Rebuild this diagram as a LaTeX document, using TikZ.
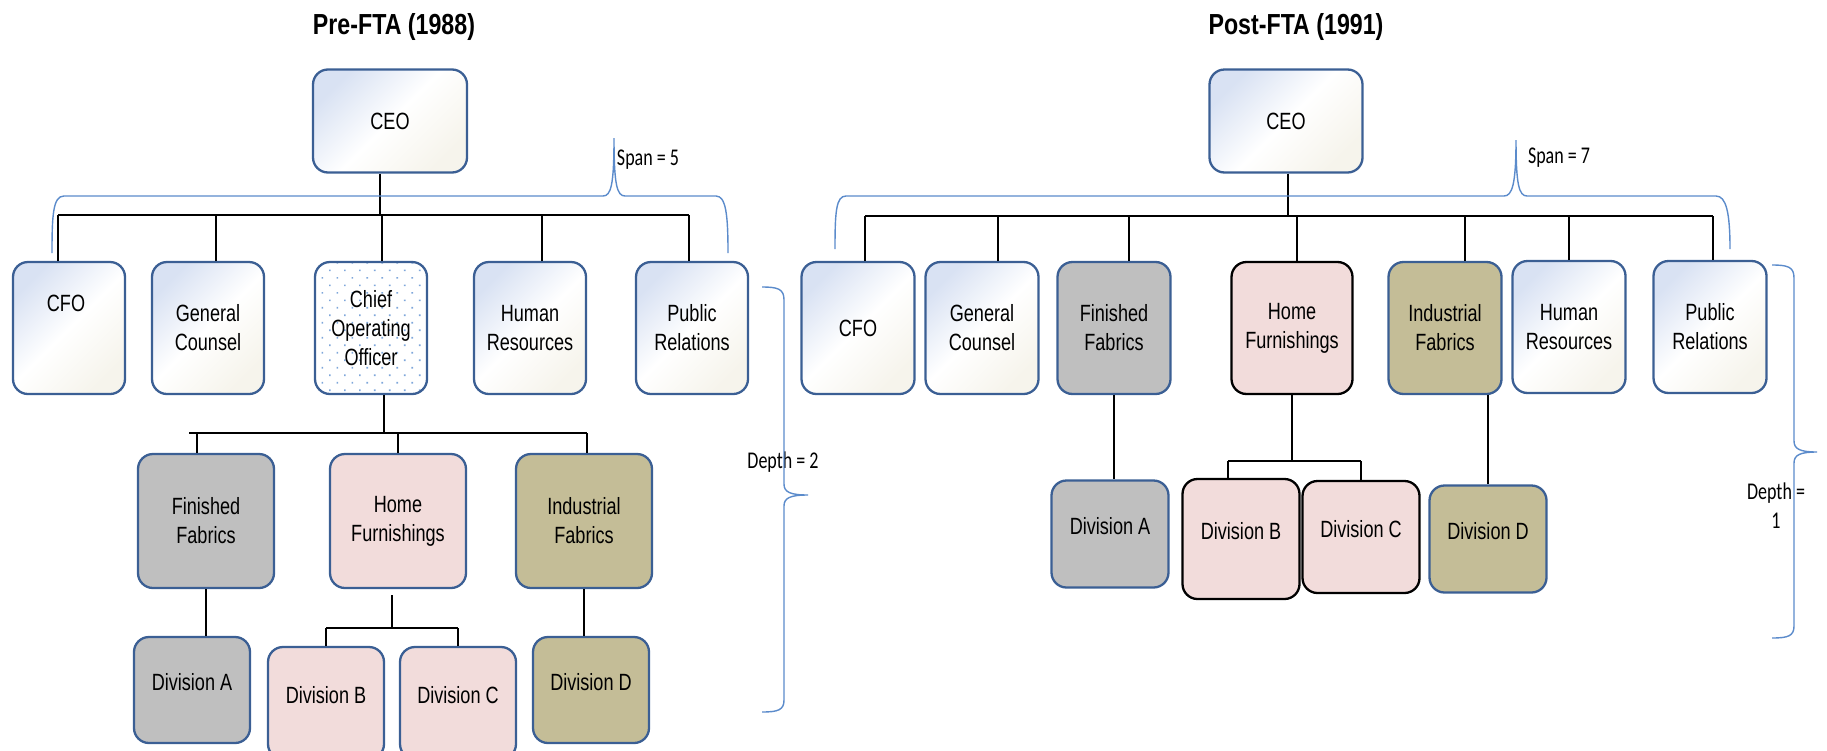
\documentclass[tikz,border=0pt]{standalone}
\usepackage{fontspec}
\setmainfont{Liberation Sans}[FakeStretch=0.77]
\newfontfamily\titlefont{Liberation Sans}[FakeStretch=0.8]
\newfontfamily\notefont{Carlito}[FakeStretch=0.75]
\usepackage{tikz}
\usetikzlibrary{patterns.meta}

\definecolor{cellline}{HTML}{3B5F94}
\definecolor{cellblue}{HTML}{D9E2F3}
\definecolor{cellcream}{HTML}{F6F4EC}
\definecolor{bracecol}{HTML}{5B8BCB}
\definecolor{dotblue}{HTML}{7EA6DA}
\definecolor{fabgray}{HTML}{BFBFBF}
\definecolor{homepink}{HTML}{F2DCDB}
\definecolor{indkhaki}{HTML}{C4BD97}

\begin{document}
\begin{tikzpicture}[x=1pt, y=-1pt,
  celltext/.style={font=\fontsize{23.5pt}{29pt}\selectfont},
  cell/.style={celltext, draw=cellline, line width=2.3pt, rounded corners=15pt, align=center, inner sep=2pt},
  office/.style={cell, left color=cellblue, right color=cellcream, middle color=white, shading angle=45},
  opsdots/.style={cell, pattern={Dots[distance=10.6pt, angle=45, radius=1.1pt]}, pattern color=dotblue},
  levelone/.style={minimum width=112pt, minimum height=132pt},
  leveltwo/.style={minimum width=136pt, minimum height=134pt},
  divcell/.style={minimum width=116pt, minimum height=106pt, text depth=16pt},
  titletext/.style={font=\titlefont\bfseries\fontsize{29pt}{34pt}\selectfont},
  notetext/.style={font=\notefont\fontsize{24pt}{29pt}\selectfont, align=center},
  tie/.style={line width=1.2pt},
  bar/.style={line width=1.8pt},
  spanbrace/.style={draw=bracecol, line width=1.4pt}]

\useasboundingbox (0,0) rectangle (1827,750);

% pre-FTA chart

\node[titletext] (titleA) at (394,27) {Pre-FTA (1988)};

\node[office, minimum width=154pt, minimum height=103pt] (ceoA) at (390,121) {CEO};

\node[office, levelone] (cfoA) at (69,328) {};
\node[celltext] (cfoA_label) at (66,303) {CFO};
\node[office, levelone] (gcA) at (208,328) {General\\Counsel};
\node[opsdots, levelone] (cooA) at (371,328) {Chief\\Operating\\Officer};
\node[office, levelone] (hrA) at (530,328) {Human\\Resources};
\node[office, levelone] (prA) at (692,328) {Public\\Relations};

\node[cell, fill=fabgray, leveltwo] (ffA) at (206,521) {Finished\\Fabrics};
\node[cell, fill=homepink, leveltwo] (hfA) at (398,521) {Home\\Furnishings};
\node[cell, fill=indkhaki, leveltwo] (ifA) at (584,521) {Industrial\\Fabrics};

\node[cell, fill=fabgray, divcell] (divaA) at (192,690) {Division A};
\node[cell, fill=homepink, divcell, minimum height=112pt] (divbA) at (326,703) {Division B};
\node[cell, fill=homepink, divcell, minimum height=112pt] (divcA) at (458,703) {Division C};
\node[cell, fill=indkhaki, divcell] (divdA) at (591,690) {Division D};

% ceo to direct reports
\coordinate (spanjoinA) at (380,215);
\draw[tie] (ceoA.south -| spanjoinA) -- (spanjoinA);
\draw[bar] ([xshift=-11pt]cfoA.north |- spanjoinA) -- ([xshift=-3pt]prA.north |- spanjoinA);
\draw[tie] ([xshift=-11pt]cfoA.north |- spanjoinA) -- ([xshift=-11pt]cfoA.north);
\draw[tie] ([xshift=8pt]gcA.north |- spanjoinA) -- ([xshift=8pt]gcA.north);
\draw[tie] ([xshift=11pt]cooA.north |- spanjoinA) -- ([xshift=11pt]cooA.north);
\draw[tie] ([xshift=12pt]hrA.north |- spanjoinA) -- ([xshift=12pt]hrA.north);
\draw[tie] ([xshift=-3pt]prA.north |- spanjoinA) -- ([xshift=-3pt]prA.north);

% coo to business units
\coordinate (opsjoinA) at (384,433);
\draw[tie] (cooA.south -| opsjoinA) -- (opsjoinA);
\draw[bar] ([xshift=-17pt]ffA.north |- opsjoinA) -- ([xshift=3pt]ifA.north |- opsjoinA);
\draw[tie] ([xshift=-9pt]ffA.north |- opsjoinA) -- ([xshift=-9pt]ffA.north);
\draw[tie] (hfA.north |- opsjoinA) -- (hfA.north);
\draw[tie] ([xshift=3pt]ifA.north |- opsjoinA) -- ([xshift=3pt]ifA.north);

% units to divisions
\draw[tie] (ffA.south) -- (ffA.south |- divaA.north);
\coordinate (homejoinA) at (392,628);
\draw[tie] ([yshift=-6pt]hfA.south -| homejoinA) -- (homejoinA);
\draw[bar] (divbA.north |- homejoinA) -- (divcA.north |- homejoinA);
\draw[tie] (divbA.north |- homejoinA) -- (divbA.north);
\draw[tie] (divcA.north |- homejoinA) -- (divcA.north);
\draw[tie, line width=2.4pt] (ifA.south) -- (ifA.south |- divdA.north);

% span and depth
\node[notetext] (spanA) at (648,160) {Span = 5};
\node[notetext] (depthA) at (783,462) {Depth = 2};
\draw[spanbrace] (52,253) .. controls (52,215) and (53,196) .. (64,196) -- (603,196) .. controls (611,196) and (614,185) .. (614,138) .. controls (614,185) and (617,196) .. (625,196) -- (716,196) .. controls (726,196) and (728,215) .. (728,253);
\draw[spanbrace] (762,287) .. controls (778,287) and (784,289) .. (784,300) -- (784,484) .. controls (784,492) and (790,495) .. (808,495) .. controls (790,495) and (784,498) .. (784,506) -- (784,700) .. controls (784,710) and (778,712) .. (762,712);

% post-FTA chart

\node[titletext] (titleB) at (1296,27) {Post-FTA (1991)};

\node[office, minimum width=153pt, minimum height=103pt] (ceoB) at (1286,121) {CEO};

\node[office, levelone, minimum width=113pt] (cfoB) at (858,328) {CFO};
\node[office, levelone, minimum width=113pt] (gcB) at (982,328) {General\\Counsel};
\node[cell, fill=fabgray, levelone, minimum width=113pt] (ffB) at (1114,328) {Finished\\Fabrics};
\node[cell, draw=black, fill=homepink, levelone, minimum width=121pt] (hfB) at (1292,328) {Home\\Furnishings};
\node[cell, fill=indkhaki, levelone, minimum width=113pt] (ifB) at (1445,328) {Industrial\\Fabrics};
\node[office, levelone, minimum width=113pt] (hrB) at (1569,327) {Human\\Resources};
\node[office, levelone, minimum width=113pt] (prB) at (1710,327) {Public\\Relations};

\node[cell, fill=fabgray, divcell, minimum width=117pt, minimum height=107pt] (divaB) at (1110,534) {Division A};
\node[cell, draw=black, fill=homepink, divcell, minimum width=117pt, minimum height=120pt] (divbB) at (1241,539) {Division B};
\node[cell, draw=black, fill=homepink, divcell, minimum width=117pt, minimum height=112pt] (divcB) at (1361,537) {Division C};
\node[cell, fill=indkhaki, divcell, minimum width=117pt, minimum height=107pt] (divdB) at (1488,539) {Division D};

% ceo to direct reports
\coordinate (spanjoinB) at (1288,216);
\draw[tie] (ceoB.south -| spanjoinB) -- (spanjoinB);
\draw[bar] ([xshift=7pt]cfoB.north |- spanjoinB) -- ([xshift=3pt]prB.north |- spanjoinB);
\draw[tie] ([xshift=7pt]cfoB.north |- spanjoinB) -- ([xshift=7pt]cfoB.north);
\draw[tie] ([xshift=16pt]gcB.north |- spanjoinB) -- ([xshift=16pt]gcB.north);
\draw[tie] ([xshift=15pt]ffB.north |- spanjoinB) -- ([xshift=15pt]ffB.north);
\draw[tie] ([xshift=5pt]hfB.north |- spanjoinB) -- ([xshift=5pt]hfB.north);
\draw[tie] ([xshift=20pt]ifB.north |- spanjoinB) -- ([xshift=20pt]ifB.north);
\draw[tie] (hrB.north |- spanjoinB) -- (hrB.north);
\draw[tie] ([xshift=3pt]prB.north |- spanjoinB) -- ([xshift=3pt]prB.north);

% units to divisions
\draw[tie] (ffB.south) -- (ffB.south |- divaB.north);
\coordinate (homejoinB) at (1292,461);
\draw[tie] (hfB.south) -- (homejoinB);
\draw[bar] ([xshift=-13pt]divbB.north |- homejoinB) -- (divcB.north |- homejoinB);
\draw[tie] ([xshift=-13pt]divbB.north |- homejoinB) -- ([xshift=-13pt]divbB.north);
\draw[tie] (divcB.north |- homejoinB) -- (divcB.north);
\draw[tie] (divdB.north |- ifB.south) -- (divdB.north);

% span and depth
\node[notetext] (spanB) at (1559,158) {Span = 7};
\node[notetext] (depthB) at (1776,506) {Depth =\\1};
\draw[spanbrace] (835,249) .. controls (835,212) and (836,196) .. (846,196) -- (1504,196) .. controls (1512,196) and (1516,185) .. (1516,140) .. controls (1516,185) and (1519,196) .. (1527,196) -- (1716,196) .. controls (1726,196) and (1730,212) .. (1730,249);
\draw[spanbrace] (1772,265) .. controls (1788,265) and (1794,267) .. (1794,278) -- (1794,441) .. controls (1794,449) and (1800,452) .. (1817,452) .. controls (1800,452) and (1794,455) .. (1794,463) -- (1794,626) .. controls (1794,636) and (1788,638) .. (1772,638);

\end{tikzpicture}
\end{document}
